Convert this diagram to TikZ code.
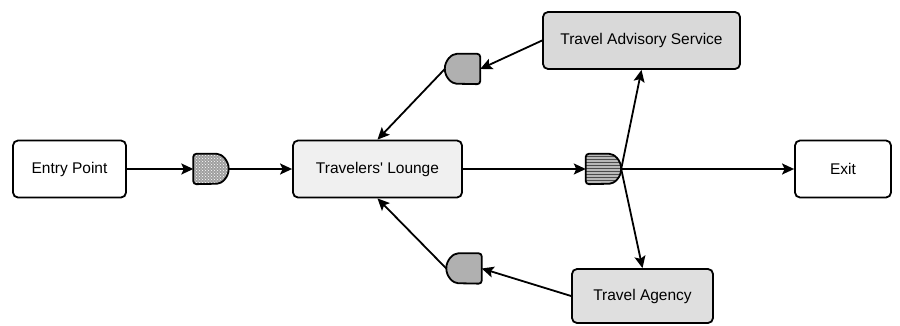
\documentclass[tikz,border=0pt]{standalone}
\usepackage{fontspec}
\setmainfont{Liberation Sans}
\usetikzlibrary{arrows.meta,patterns}

\tikzset{
  box/.style={draw, line width=1.8pt, rounded corners=5pt, minimum height=57pt,
    inner sep=0pt, font=\fontsize{15.5}{18}\selectfont},
  gate/.style={minimum width=35pt, minimum height=30pt, inner sep=0pt},
  gateline/.style={draw, line width=1.8pt, rounded corners=3pt},
  flow/.style={line width=1.8pt, -{Stealth[length=12pt,width=11pt,inset=2.5pt]}},
}

\begin{document}
\begin{tikzpicture}[x=1pt,y=1pt]
\useasboundingbox (0,0) rectangle (900,325);
% Stationen:
\node[box, fill=white, minimum width=113pt] (entry) at (69.5,156) {Entry Point};
\node[box, fill=gray!12, minimum width=169pt] (lounge) at (377.5,156) {Travelers\textquotesingle\ Lounge};
\node[box, fill=gray!30, minimum width=197pt] (advisory) at (641.5,284.5) {Travel Advisory Service};
\node[box, fill=gray!25, minimum width=141pt, minimum height=54pt] (agency) at (642.5,29) {Travel Agency};
\node[box, fill=white, minimum width=96pt] (exit) at (843,156) {Exit};
% Gatter, rechts rund:
\node[gate] (g1) at (211,156) {};
\path[gateline, preaction={fill=gray!75}, pattern=crosshatch dots, pattern color=white]
  (g1.north west) -- ([xshift=-15pt]g1.north east) arc[start angle=90, end angle=-90, radius=15pt]
  -- (g1.south west) -- cycle;
\node[gate] (g2) at (603.5,156) {};
\path[gateline, preaction={fill=gray!55}, pattern=horizontal lines, pattern color=black!70]
  (g2.north west) -- ([xshift=-15pt]g2.north east) arc[start angle=90, end angle=-90, radius=15pt]
  -- (g2.south west) -- cycle;
% Gatter, links rund:
\node[gate] (gtop) at (462.5,256) {};
\draw[gateline, fill=gray!62]
  (gtop.north east) -- ([xshift=15pt]gtop.north west) arc[start angle=90, end angle=270, radius=15pt]
  -- (gtop.south east) -- cycle;
\node[gate] (gbot) at (464,56.5) {};
\draw[gateline, fill=gray!62]
  (gbot.north east) -- ([xshift=15pt]gbot.north west) arc[start angle=90, end angle=270, radius=15pt]
  -- (gbot.south east) -- cycle;
% Pfeile:
\draw[flow] (entry) -- (g1);
\draw[flow] (g1) -- (lounge);
\draw[flow] (lounge) -- (g2);
\draw[flow] (g2.east) -- (exit);
\draw[flow] (g2.east) -- (advisory.south);
\draw[flow] (g2.east) -- (agency.north);
\draw[flow] (advisory.west) -- (gtop.east);
\draw[flow] (gtop.west) -- (lounge.north);
\draw[flow] (agency.west) -- (gbot.east);
\draw[flow] (gbot.west) -- (lounge.south);
\end{tikzpicture}
\end{document}
